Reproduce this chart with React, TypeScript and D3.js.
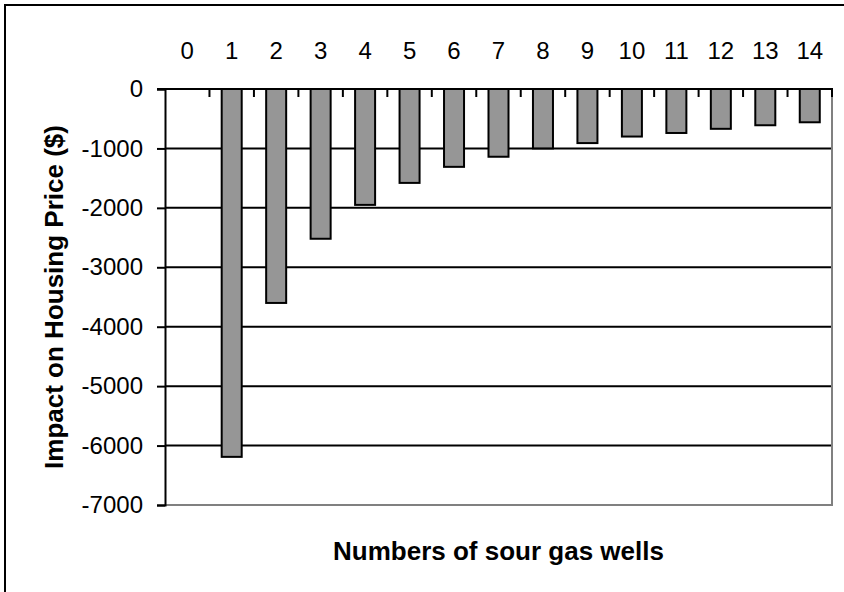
import React, { useEffect, useRef } from 'react';
import * as d3 from 'd3';

const categories = ['0', '1', '2', '3', '4', '5', '6', '7', '8', '9', '10', '11', '12', '13', '14'];
// impact on housing price ($); no bar at 0 wells
const impacts: (number | null)[] = [null, -6190, -3600, -2520, -1950, -1580, -1310, -1140, -1000, -910, -800, -740, -670, -610, -560];
const yTicks = [0, -1000, -2000, -3000, -4000, -5000, -6000, -7000];

export default function App() {
  const svgRef = useRef<SVGSVGElement>(null);

  useEffect(() => {
    if (!svgRef.current) return;
    document.body.style.margin = '0';

    const W = 844, H = 592;
    const left = 165, right = 832, top = 89, bottom = 505;
    const font = 'Arial, "Liberation Sans", sans-serif';

    const svg = d3.select(svgRef.current);
    svg.selectAll('*').remove();

    // outer chart frame
    svg.append('rect')
      .attr('x', 5).attr('y', 5)
      .attr('width', W).attr('height', H)
      .attr('fill', '#fff')
      .attr('stroke', '#000')
      .attr('stroke-width', 2);

    const x = d3.scaleBand<string>()
      .domain(categories)
      .range([left, right])
      .paddingInner(0.55)
      .paddingOuter(0.275);

    const y = d3.scaleLinear()
      .domain([-7000, 0])
      .range([bottom, top]);

    // gridlines
    svg.append('g')
      .selectAll('line')
      .data(yTicks.filter(d => d < 0 && d > -7000))
      .join('line')
      .attr('x1', left).attr('x2', right)
      .attr('y1', d => y(d)).attr('y2', d => y(d))
      .attr('stroke', '#000')
      .attr('stroke-width', 2);

    // plot border (grey) on right and bottom
    svg.append('line')
      .attr('x1', right).attr('x2', right)
      .attr('y1', top).attr('y2', bottom)
      .attr('stroke', '#808080').attr('stroke-width', 2);
    svg.append('line')
      .attr('x1', left).attr('x2', right + 1)
      .attr('y1', bottom).attr('y2', bottom)
      .attr('stroke', '#808080').attr('stroke-width', 2);

    // bars
    const barData = categories
      .map((c, i) => ({ c, v: impacts[i] }))
      .filter(d => d.v !== null) as { c: string; v: number }[];

    svg.append('g')
      .selectAll('rect')
      .data(barData)
      .join('rect')
      .attr('x', d => x(d.c)!)
      .attr('width', x.bandwidth())
      .attr('y', y(0))
      .attr('height', d => y(d.v) - y(0))
      .attr('fill', '#969696')
      .attr('stroke', '#000')
      .attr('stroke-width', 2);

    // y axis
    const yAxis = svg.append('g')
      .attr('transform', `translate(${left},0)`)
      .call(d3.axisLeft(y).tickValues(yTicks).tickSize(8).tickPadding(14).tickFormat(d => `${d}`));
    yAxis.select('.domain').attr('stroke', '#000').attr('stroke-width', 2);
    yAxis.selectAll('.tick line').attr('stroke', '#000').attr('stroke-width', 2);
    yAxis.selectAll('.tick text')
      .attr('font-family', font)
      .attr('font-size', 24)
      .attr('fill', '#000');

    // x axis at zero, labels on top, ticks on category boundaries
    const step = x.step();
    const bounds = categories.slice(1).map(c => x(c)! - (step - x.bandwidth()) / 2);
    bounds.push(right);
    svg.append('line')
      .attr('x1', left - 8).attr('x2', right + 1)
      .attr('y1', y(0)).attr('y2', y(0))
      .attr('stroke', '#000').attr('stroke-width', 2);
    svg.append('g')
      .selectAll('line')
      .data(bounds)
      .join('line')
      .attr('x1', d => d).attr('x2', d => d)
      .attr('y1', y(0)).attr('y2', y(0) + 8)
      .attr('stroke', '#000').attr('stroke-width', 2);
    svg.append('g')
      .selectAll('text')
      .data(categories)
      .join('text')
      .attr('x', d => x(d)! + x.bandwidth() / 2)
      .attr('y', 59)
      .attr('text-anchor', 'middle')
      .attr('font-family', font)
      .attr('font-size', 24)
      .text(d => d);

    // axis titles
    svg.append('text')
      .attr('x', (left + right) / 2)
      .attr('y', 560)
      .attr('text-anchor', 'middle')
      .attr('font-family', font)
      .attr('font-weight', 'bold')
      .attr('font-size', 26)
      .text('Numbers of sour gas wells');

    svg.append('text')
      .attr('transform', `translate(63,${(top + bottom) / 2}) rotate(-90)`)
      .attr('text-anchor', 'middle')
      .attr('font-family', font)
      .attr('font-weight', 'bold')
      .attr('font-size', 26)
      .text('Impact on Housing Price ($)');
  }, []);

  return (
    <svg
      ref={svgRef}
      width={844}
      height={592}
      style={{ position: 'absolute', left: 0, top: 0, display: 'block' }}
    />
  );
}
